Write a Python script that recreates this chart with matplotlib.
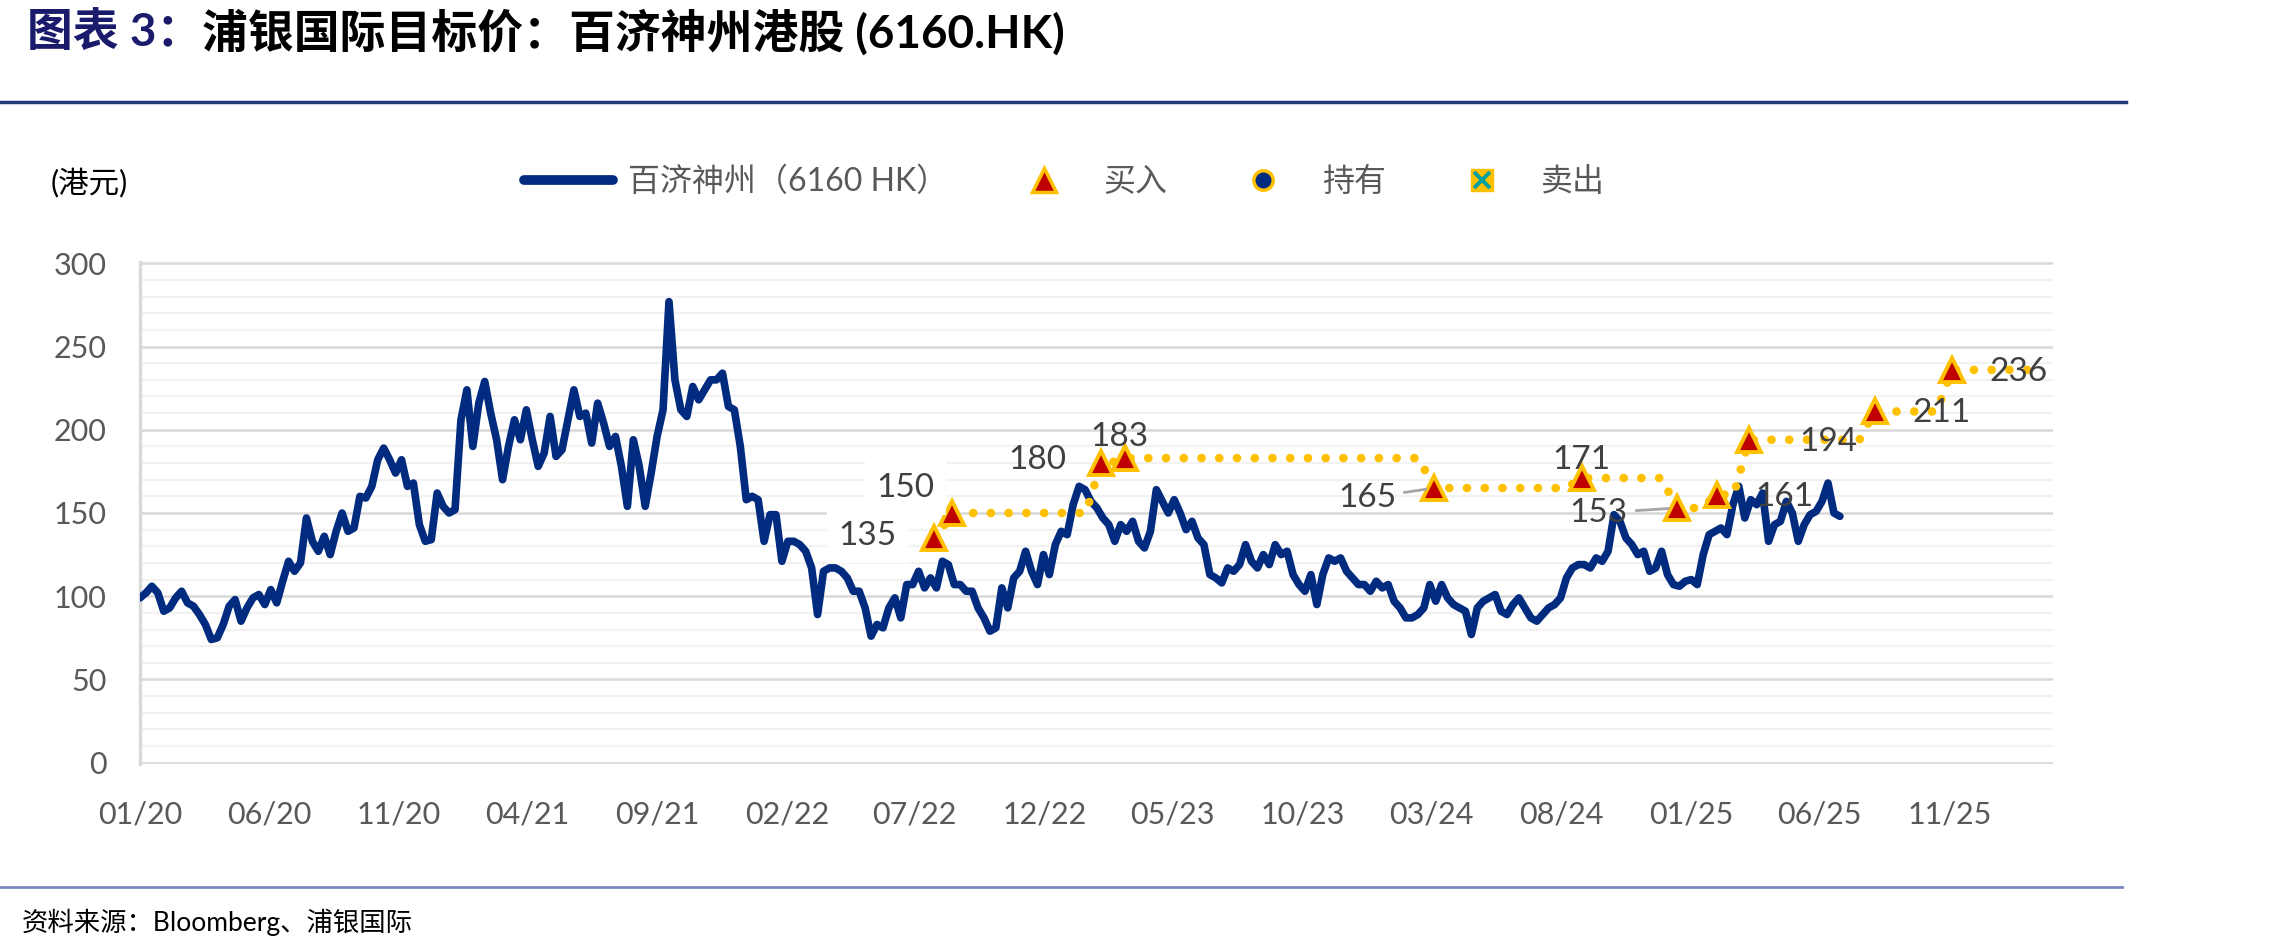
import numpy as np
import pandas as pd
import matplotlib
matplotlib.use("Agg")
import matplotlib.pyplot as plt
from matplotlib.lines import Line2D
from matplotlib.legend_handler import HandlerTuple

# Lato for latin / digits, Noto CJK for the chinese characters
plt.rcParams['font.family'] = ['Lato', 'Noto Sans CJK SC', 'DejaVu Sans']

# Weekly close of 6160 HK (HKD), starting first week of 2020
price_start = '2020-01-01'
price = [
    99, 102, 106, 102, 91, 93, 99, 103, 96, 94,
    89, 83, 74, 75, 83, 94, 98, 85, 93, 99,
    101, 95, 104, 96, 109, 121, 115, 120, 147, 133,
    127, 136, 125, 139, 150, 139, 141, 160, 159, 166,
    182, 189, 182, 174, 182, 166, 168, 143, 133, 134,
    162, 154, 150, 152, 206, 224, 190, 216, 229, 210,
    194, 170, 190, 206, 194, 212, 194, 178, 186, 208,
    184, 188, 206, 224, 208, 210, 192, 216, 204, 190,
    196, 178, 154, 194, 178, 154, 174, 196, 212, 277,
    230, 212, 208, 226, 218, 224, 230, 230, 234, 214,
    212, 190, 158, 160, 158, 133, 149, 149, 121, 133,
    133, 131, 127, 117, 89, 115, 117, 117, 115, 111,
    103, 103, 93, 76, 83, 81, 93, 99, 87, 107,
    107, 115, 105, 111, 105, 121, 119, 107, 107, 103,
    103, 93, 87, 79, 81, 105, 93, 111, 115, 127,
    115, 107, 125, 113, 131, 139, 137, 155, 166, 164,
    157, 153, 147, 143, 133, 143, 139, 145, 133, 129,
    139, 164, 157, 150, 158, 150, 140, 145, 135, 131,
    113, 111, 108, 117, 115, 119, 131, 121, 117, 125,
    119, 131, 125, 127, 113, 107, 103, 113, 95, 113,
    123, 121, 123, 115, 111, 107, 107, 103, 109, 105,
    107, 97, 93, 87, 87, 89, 93, 107, 97, 107,
    99, 95, 93, 91, 77, 93, 97, 99, 101, 91,
    89, 95, 99, 93, 87, 85, 89, 93, 95, 99,
    111, 117, 119, 119, 117, 123, 121, 127, 149, 145,
    135, 131, 125, 127, 115, 117, 127, 113, 107, 106,
    109, 110, 107, 125, 137, 139, 141, 137, 155, 166,
    147, 158, 155, 162, 133, 143, 145, 157, 150, 133,
    143, 149, 151, 157, 168, 150, 148,
]

# SPDBI target prices (all Buy ratings)
target_dates = ['2022-07-24', '2022-08-14', '2023-02-06', '2023-03-06', '2024-03-04',
                '2024-08-25', '2024-12-15', '2025-01-31', '2025-03-10', '2025-08-05',
                '2025-11-04']
target_values = [135, 150, 180, 183, 165, 171, 153, 161, 194, 211, 236]
target_end = '2026-02-20'

tick_dates = ['2020-01-01', '2020-06-01', '2020-11-01', '2021-04-01', '2021-09-01',
              '2022-02-01', '2022-07-01', '2022-12-01', '2023-05-01', '2023-10-01',
              '2024-03-01', '2024-08-01', '2025-01-01', '2025-06-01', '2025-11-01']
tick_labels = ['01/20', '06/20', '11/20', '04/21', '09/21', '02/22', '07/22', '12/22',
               '05/23', '10/23', '03/24', '08/24', '01/25', '06/25', '11/25']

legend_labels = ['百济神州（6160 HK）', '买入', '持有', '卖出']

# label placement for the target values: (dx, dy) in pixels, alignment
label_layout = [(-37, 2, 'right'), (-17, 25, 'right'), (-35, 3, 'right'), (-6, 21, 'center'),
                (-38, -10, 'right'), (0, 18, 'center'), (-49, -5, 'right'), (39, -2, 'left'),
                (50, -2, 'left'), (38, -2, 'left'), (37, -2, 'left')]

NAVY = '#002B7F'
GOLD = '#FFC000'
RED = '#C00000'

W, H = 2280, 950
fig = plt.figure(figsize=(W / 100, H / 100), dpi=100)
ax = fig.add_axes([140 / W, 1 - 764 / H, (2053 - 140) / W, 502 / H])

price_dates = pd.date_range(price_start, periods=len(price), freq='7D')
ax.plot(price_dates, price, color=NAVY, lw=5.5, solid_joinstyle='round',
        solid_capstyle='round', zorder=3)

# target price path: hold each level, then step to the next one
td = pd.to_datetime(target_dates)
path_x, path_y = [], []
for i, (d, v) in enumerate(zip(td, target_values)):
    path_x.append(d)
    path_y.append(v)
    if i + 1 < len(td):
        path_x.append(td[i + 1] - pd.Timedelta(days=18))
    else:
        path_x.append(pd.Timestamp(target_end))
    path_y.append(v)
ax.plot(path_x, path_y, color=GOLD, lw=6.2, linestyle=(0, (0.01, 2.05)),
        dash_capstyle='round', zorder=4)
ax.plot(td, target_values, linestyle='none', marker='^', ms=17, mfc=RED, mec=GOLD,
        mew=2.8, zorder=5)

for i, (d, v) in enumerate(zip(td, target_values)):
    dx, dy, ha = label_layout[i]
    kw = {}
    if v in (135, 150):
        kw['bbox'] = dict(boxstyle='square,pad=0.35', facecolor='white', edgecolor='none')
    if v in (165, 153):
        kw['arrowprops'] = dict(arrowstyle='-', color='#A6A6A6', lw=2,
                                shrinkA=4, shrinkB=6)
    ax.annotate(str(v), xy=(d, v), xytext=(dx, dy), textcoords='offset pixels',
                ha=ha, va='center', fontsize=24, color='#404040', zorder=6, **kw)

# axes styling
ax.set_ylim(-0.8, 300.8)
ax.set_xlim(pd.Timestamp('2020-01-01'), pd.Timestamp('2026-03-03'))
ax.set_yticks(np.arange(0, 301, 50))
ax.set_yticks(np.arange(0, 301, 10), minor=True)
ax.set_xticks(pd.to_datetime(tick_dates))
ax.set_xticklabels(tick_labels)
ax.grid(which='major', axis='y', color='#D9D9D9', lw=1.8)
ax.grid(which='minor', axis='y', color='#F2F2F2', lw=1.6)
ax.set_axisbelow(True)
for s in ['top', 'right', 'bottom']:
    ax.spines[s].set_visible(False)
ax.spines['left'].set_color('#D9D9D9')
ax.spines['left'].set_linewidth(2.5)
ax.tick_params(axis='y', which='both', length=0, pad=24, labelsize=22, labelcolor='#595959')
ax.tick_params(axis='x', which='both', length=0, pad=26, labelsize=22, labelcolor='#595959')

# legend
h_price = Line2D([], [], color=NAVY, lw=7, solid_capstyle='round')
h_buy = Line2D([], [], ls='none', marker='^', ms=17, mfc=RED, mec=GOLD, mew=2.5)
h_hold = Line2D([], [], ls='none', marker='o', ms=14, mfc=NAVY, mec=GOLD, mew=2.5)
h_sell = (Line2D([], [], ls='none', marker='s', ms=16, mfc=GOLD, mec=GOLD),
          Line2D([], [], ls='none', marker='x', ms=12, mec='#00A0A0', mew=2.8))
fig.legend([h_price, h_buy, h_hold, h_sell], legend_labels,
           handler_map={tuple: HandlerTuple(ndivide=1, pad=0)},
           loc='center left', bbox_to_anchor=(524 / W, 1 - 182 / H), ncol=4,
           frameon=False, fontsize=23, handlelength=2.8, handletextpad=0.45,
           columnspacing=1.6, borderpad=0, borderaxespad=0, labelcolor='#595959')

fig.text(51 / W, 1 - 182 / H, '(港元)', fontsize=22, color='black', va='center')

# title in two colours
t1 = fig.text(27 / W, 1 - 33 / H, '图表 3：', fontsize=33, fontweight='bold',
              color='#1B1B6B', va='center', ha='left')
fig.canvas.draw()
bb = t1.get_window_extent(fig.canvas.get_renderer())
fig.text(bb.x1 / W, 1 - 33 / H, '浦银国际目标价：百济神州港股 (6160.HK)', fontsize=33,
         fontweight='bold', color='black', va='center', ha='left')

fig.add_artist(Line2D([0, 2126 / W], [1 - 102 / H] * 2, color='#1F3B7A', lw=2.5))
fig.add_artist(Line2D([0, 2122 / W], [1 - 887 / H] * 2, color='#7A86C2', lw=2))
fig.text(22 / W, 1 - 922 / H, '资料来源：Bloomberg、浦银国际', fontsize=19,
         color='black', va='center')

fig.savefig('out.png', dpi=100)
